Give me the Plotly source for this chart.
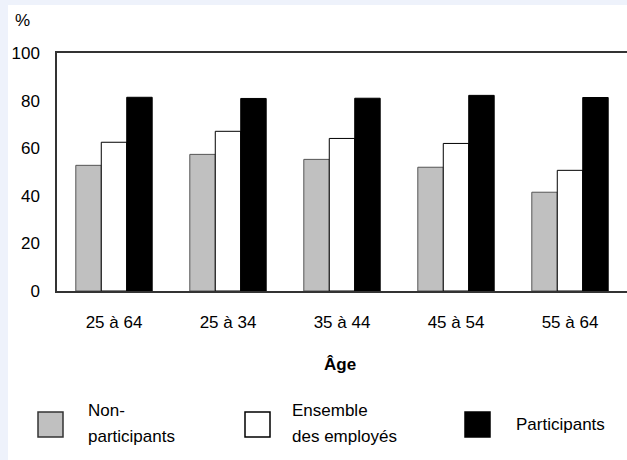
import plotly.graph_objects as go

# Employment rate by age group and participation status
age_groups = ["25 à 64", "25 à 34", "35 à 44", "45 à 54", "55 à 64"]
non_participants = [52.8, 57.4, 55.3, 52.0, 41.5]
all_employees = [62.5, 67.1, 64.1, 62.0, 50.7]
participants = [81.4, 80.9, 81.0, 82.2, 81.3]

W, H = 627, 460
L, R, T, B = 57, 0, 53, 169
PW, PH = W - L - R, H - T - B
FONT = "Liberation Sans, Arial, sans-serif"
FS = 17


def px(x):
    return (x - L) / PW


def py(y):
    return (H - B - y) / PH


fig = go.Figure()
fig.add_trace(go.Bar(x=age_groups, y=non_participants, name="Non-participants",
                     marker=dict(color="#C0C0C0", line=dict(color="#555555", width=1))))
fig.add_trace(go.Bar(x=age_groups, y=all_employees, name="Ensemble des employés",
                     marker=dict(color="#FFFFFF", line=dict(color="#000000", width=1))))
fig.add_trace(go.Bar(x=age_groups, y=participants, name="Participants",
                     marker=dict(color="#000000", line=dict(color="#000000", width=1))))

shapes = [
    # white panel over the tinted page
    dict(type="rect", xref="paper", yref="paper", layer="below",
         x0=px(8), x1=px(W + 2), y0=py(H + 2), y1=py(5),
         fillcolor="white", line=dict(width=0)),
]
annotations = [
    dict(text="%", x=px(13), y=py(20), xanchor="left", yanchor="middle"),
    dict(text="<b>Âge</b>", x=px(340), y=py(364), xanchor="center", yanchor="middle"),
]

# legend swatches and labels: (box left, fill, edge, text left, lines)
legend_items = [
    (38, "#C0C0C0", "#333333", 86, ["Non-", "participants"]),
    (245, "#FFFFFF", "#000000", 290, ["Ensemble", "des employés"]),
    (465, "#000000", "#000000", 514, ["Participants"]),
]
for x0, fill, edge, tx, lines in legend_items:
    shapes.append(dict(type="rect", xref="paper", yref="paper",
                       x0=px(x0), x1=px(x0 + 25), y0=py(437), y1=py(412),
                       fillcolor=fill, line=dict(color=edge, width=1.5)))
    ys = [410, 436] if len(lines) == 2 else [424]
    for t, yy in zip(lines, ys):
        annotations.append(dict(text=t, x=px(tx), y=py(yy),
                                xanchor="left", yanchor="middle"))

for a in annotations:
    a.update(xref="paper", yref="paper", showarrow=False,
             font=dict(family=FONT, size=FS, color="#000000"))

fig.update_layout(
    width=W, height=H,
    margin=dict(l=L, r=R, t=T, b=B, pad=0),
    paper_bgcolor="#EEF2FB",
    plot_bgcolor="white",
    barmode="group",
    bargap=0.33,
    bargroupgap=0,
    showlegend=False,
    font=dict(family=FONT, size=FS, color="#000000"),
    shapes=shapes,
    annotations=annotations,
)
fig.update_xaxes(showline=True, linecolor="#333333", linewidth=1.5, mirror=True,
                 showgrid=False, ticks="", ticklabelstandoff=15,
                 tickfont=dict(size=FS))
fig.update_yaxes(range=[0, 100], dtick=20, showline=True, linecolor="#333333",
                 linewidth=1.5, showgrid=False, zeroline=False, ticks="",
                 ticklabelstandoff=12, tickfont=dict(size=FS))

fig.write_html("out.html")
